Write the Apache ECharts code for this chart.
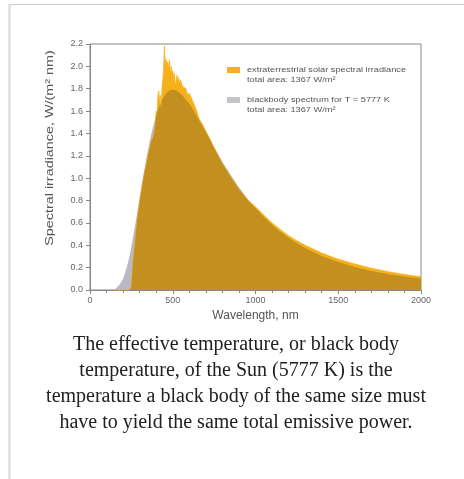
<!DOCTYPE html>
<html>
<head>
<meta charset="utf-8">
<script src="https://cdn.jsdelivr.net/npm/echarts@6/dist/echarts.min.js"></script>
<style>
  html, body { margin: 0; padding: 0; background: #fff; }
  #main { width: 464px; height: 479px; }
</style>
</head>
<body>
<div id="main"></div>
<script>
// wavelength grid, nm (shared by both curves)
const wavelength = [
  150, 175, 200, 225, 240, 250, 255, 260, 270, 280, 290, 300, 310, 320, 330, 340, 350, 360, 370, 380, 390,
  395, 400, 405, 410, 415, 420, 425, 430, 435, 440, 445, 450, 455, 460, 465, 470, 475, 480, 485, 490, 495,
  500, 505, 510, 515, 520, 525, 530, 535, 540, 545, 550, 555, 560, 570, 580, 590, 600, 620, 640, 660, 680,
  700, 725, 750, 775, 800, 850, 900, 950, 1000, 1050, 1100, 1150, 1200, 1250, 1300, 1400, 1500, 1600, 1700,
  1800, 1900, 2000
];
// extraterrestrial solar spectral irradiance, W/(m2 nm)
const solar = [
  0, 0, 0, 0, 0, 0.03, 0.15, 0.25, 0.4, 0.55, 0.68, 0.79, 0.88, 0.97, 1.05, 1.12, 1.2, 1.26, 1.33, 1.36, 1.42,
  1.5, 1.6, 1.55, 1.72, 1.78, 1.7, 1.74, 1.62, 1.8, 1.88, 1.98, 2.18, 2.02, 2.06, 2.0, 2.04, 1.98, 2.06, 1.92, 2.0, 1.94,
  1.96, 1.88, 1.94, 1.82, 1.87, 1.92, 1.86, 1.9, 1.84, 1.88, 1.86, 1.85, 1.82, 1.83, 1.8, 1.74, 1.76, 1.69, 1.62, 1.53, 1.48,
  1.42, 1.35, 1.27, 1.2, 1.13, 1.01, 0.9, 0.81, 0.745, 0.67, 0.6, 0.54, 0.485, 0.44, 0.4, 0.33, 0.275, 0.232, 0.195,
  0.163, 0.138, 0.118
];
// blackbody spectrum, T = 5777 K
const blackbody = [
  0.007, 0.04, 0.099, 0.218, 0.31, 0.39, 0.43, 0.47, 0.56, 0.645, 0.735, 0.826, 0.92, 1.01, 1.09, 1.17, 1.25, 1.325, 1.39, 1.455, 1.51,
  1.537, 1.563, 1.585, 1.608, 1.628, 1.648, 1.668, 1.684, 1.699, 1.713, 1.726, 1.738, 1.749, 1.758, 1.767, 1.774, 1.78, 1.784, 1.787, 1.789, 1.79,
  1.79, 1.79, 1.789, 1.787, 1.785, 1.782, 1.778, 1.773, 1.767, 1.761, 1.754, 1.746, 1.738, 1.72, 1.7, 1.683, 1.666, 1.62, 1.57, 1.518, 1.465,
  1.411, 1.344, 1.277, 1.211, 1.148, 1.03, 0.918, 0.82, 0.731, 0.653, 0.583, 0.522, 0.467, 0.419, 0.376, 0.305, 0.25, 0.206, 0.171,
  0.143, 0.121, 0.102
];

const legendLines = [
  ["extraterrestrial solar spectral irradiance", "total area: 1367 W/m²"],
  ["blackbody spectrum for T = 5777 K", "total area: 1367 W/m²"]
];
const caption = [
  "The effective temperature, or black body",
  "temperature, of the Sun (5777 K) is the",
  "temperature a black body of the same size must",
  "have to yield the same total emissive power."
];

const chart = echarts.init(document.getElementById("main"), null, { renderer: "canvas" });

const toPairs = (arr) => wavelength.map((w, i) => [w, arr[i]]);
// part covered by both curves is drawn darker
const overlap = wavelength.map((w, i) => [w, Math.min(solar[i], blackbody[i])]);

const sansFont = "Liberation Sans, Arial, sans-serif";
const serifFont = "Liberation Serif, Times New Roman, serif";

const graphics = [
  // thumbnail frame
  { type: "line", shape: { x1: 9.5, y1: 4.5, x2: 464, y2: 4.5 }, style: { stroke: "#c8ccd1", lineWidth: 1 } },
  { type: "line", shape: { x1: 9.5, y1: 4.5, x2: 9.5, y2: 479 }, style: { stroke: "#d6d8db", lineWidth: 2 } },
  // legend
  { type: "rect", shape: { x: 227, y: 67, width: 13, height: 6 }, style: { fill: "#f5b01c" } },
  { type: "rect", shape: { x: 227, y: 97, width: 13, height: 6 }, style: { fill: "#c4c4c8" } },
  // y axis title (stretched like the source bitmap)
  {
    type: "text", x: 50, y: 148, rotation: Math.PI / 2, scaleX: 1.25,
    style: {
      text: "Spectral irradiance, W/(m² nm)", font: "11.5px " + sansFont, fill: "#555",
      align: "center", verticalAlign: "middle"
    }
  }
];
legendLines.forEach((pair, k) => {
  pair.forEach((t, j) => {
    graphics.push({
      type: "text",
      x: 247,
      y: 70 + k * 30 + j * 10,
      scaleX: 1.15,
      style: { text: t, font: "8px " + sansFont, fill: "#555", verticalAlign: "middle" }
    });
  });
});
caption.forEach((t, i) => {
  graphics.push({
    type: "text",
    x: 236,
    y: 345 + i * 26,
    style: { text: t, font: "20px " + serifFont, fill: "#202122", align: "center", verticalAlign: "middle" }
  });
});

const option = {
  animation: false,
  grid: {
    left: 90,
    right: 43,
    top: 44,
    bottom: 189,
    show: true,
    borderColor: "#888",
    borderWidth: 1
  },
  xAxis: {
    type: "value",
    min: 0,
    max: 2000,
    interval: 500,
    name: "Wavelength, nm",
    nameLocation: "middle",
    nameGap: 19,
    nameTextStyle: { fontFamily: sansFont, fontSize: 12, color: "#555" },
    axisLine: { lineStyle: { color: "#888" } },
    axisTick: { length: 4, lineStyle: { color: "#888" } },
    minorTick: { show: true, splitNumber: 5, length: 3, lineStyle: { color: "#888" } },
    splitLine: { show: false },
    axisLabel: {
      fontFamily: sansFont, fontSize: 9, color: "#666", margin: 6,
      formatter: (v) => String(v)
    }
  },
  yAxis: {
    type: "value",
    min: 0,
    max: 2.2,
    interval: 0.2,
    axisLine: { show: true, lineStyle: { color: "#888" } },
    axisTick: { show: true, length: 4, lineStyle: { color: "#888" } },
    splitLine: { show: false },
    axisLabel: {
      fontFamily: sansFont, fontSize: 9, color: "#666", margin: 7,
      formatter: (v) => v.toFixed(1)
    }
  },
  series: [
    {
      name: "blackbody spectrum for T = 5777 K",
      type: "line",
      data: toPairs(blackbody),
      symbol: "none",
      lineStyle: { width: 0 },
      areaStyle: { color: "#b9b9c6", opacity: 1 },
      z: 1
    },
    {
      name: "extraterrestrial solar spectral irradiance",
      type: "line",
      data: toPairs(solar),
      symbol: "none",
      lineStyle: { width: 0.8, color: "#f7b21a" },
      areaStyle: { color: "#f5b01c", opacity: 1 },
      z: 2
    },
    {
      name: "overlap",
      type: "line",
      data: overlap,
      symbol: "none",
      lineStyle: { width: 0 },
      areaStyle: { color: "#c3901f", opacity: 1 },
      z: 3
    }
  ],
  graphic: graphics
};
chart.setOption(option);
</script>
</body>
</html>
